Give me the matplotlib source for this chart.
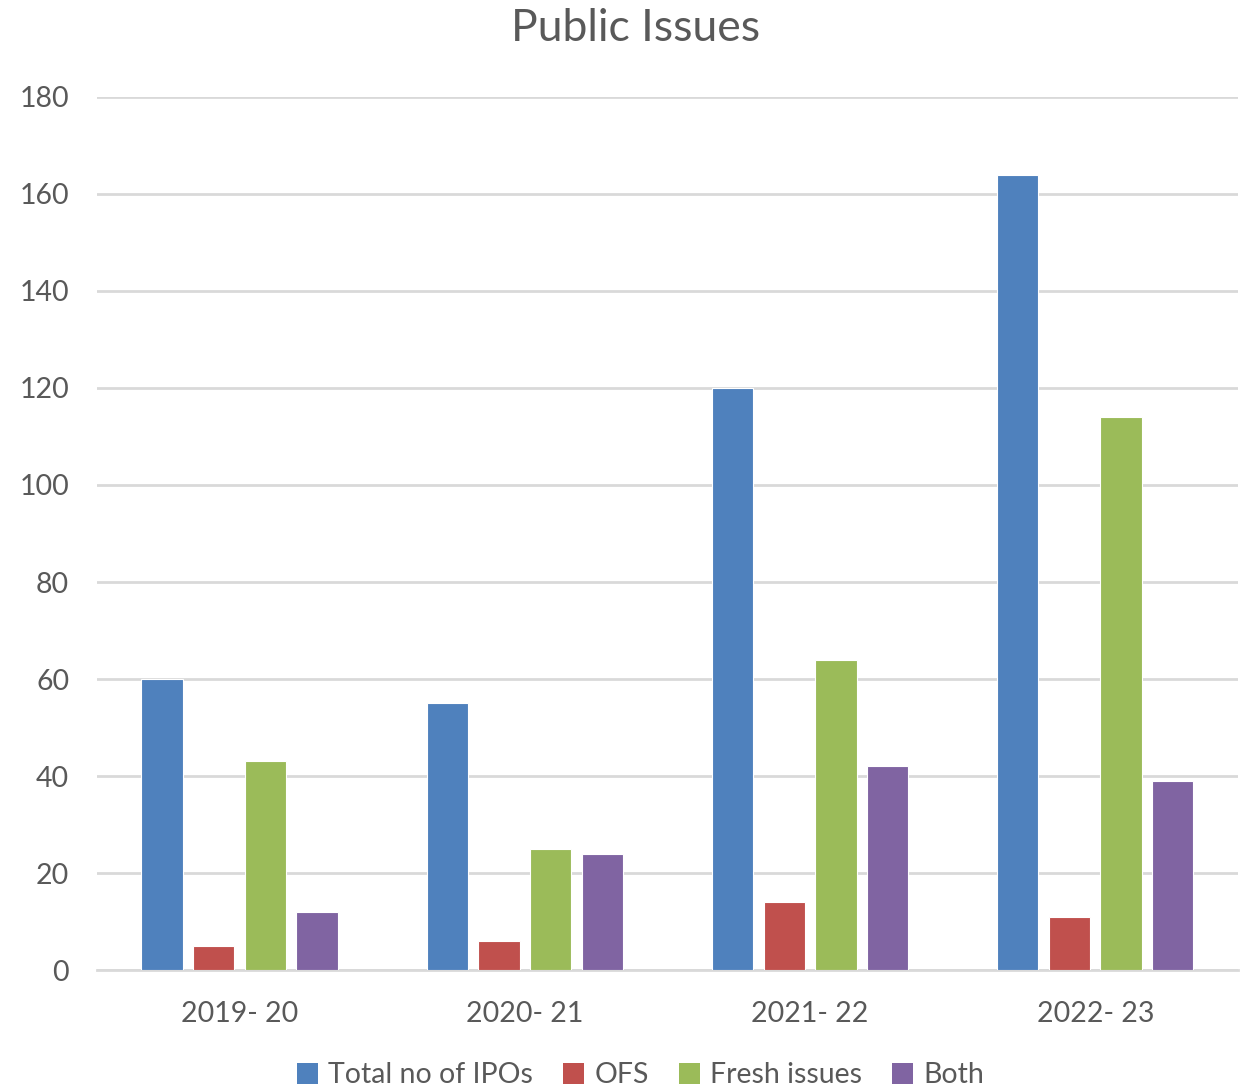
import numpy as np
import matplotlib.pyplot as plt
from matplotlib.patches import Patch

plt.rcParams['font.family'] = ['Lato', 'DejaVu Sans']

years = ["2019- 20", "2020- 21", "2021- 22", "2022- 23"]
total_ipos = [60, 55, 120, 164]
ofs = [5, 6, 14, 11]
fresh = [43, 25, 64, 114]
both = [12, 24, 42, 39]

series = [total_ipos, ofs, fresh, both]
names = ["Total no of IPOs", "OFS", "Fresh issues", "Both"]
colors = ["#4F81BD", "#C0504D", "#9BBB59", "#8064A2"]
text_col = "#595959"

fig = plt.figure(figsize=(12.51, 10.87), dpi=100)
ax = fig.add_axes([0.0775, 0.1076, 0.912, 0.8032])

x = np.arange(len(years))
step = 0.181
width = 0.145
for i, (vals, c) in enumerate(zip(series, colors)):
    ax.bar(x + (i - 1.5) * step, vals, width, color=c, edgecolor="white",
           linewidth=0.8, zorder=3)

ax.set_xlim(-0.5, 3.5)
ax.set_ylim(0, 180)
ax.set_yticks(range(0, 181, 20))
ax.set_xticks(x)
ax.set_xticklabels(years)
ax.grid(axis="y", color="#D9D9D9", linewidth=2, zorder=0)
for s in ["top", "right", "left"]:
    ax.spines[s].set_visible(False)
ax.spines["bottom"].set_color("#D9D9D9")
ax.spines["bottom"].set_linewidth(2)
ax.tick_params(axis="both", length=0, labelsize=20.5, colors=text_col)
ax.tick_params(axis="y", pad=20)
ax.tick_params(axis="x", pad=22)

fig.text(0.508, 0.974, "Public Issues", ha="center", va="center",
         fontsize=32, color=text_col)

handles = [Patch(facecolor=c) for c in colors]
fig.legend(handles, names, loc="center", bbox_to_anchor=(0.512, 0.011),
           ncol=4, frameon=False, fontsize=20.5, labelcolor=text_col,
           handlelength=0.75, handleheight=0.75, handletextpad=0.35,
           columnspacing=1.05)

fig.savefig("out.png", dpi=100)
